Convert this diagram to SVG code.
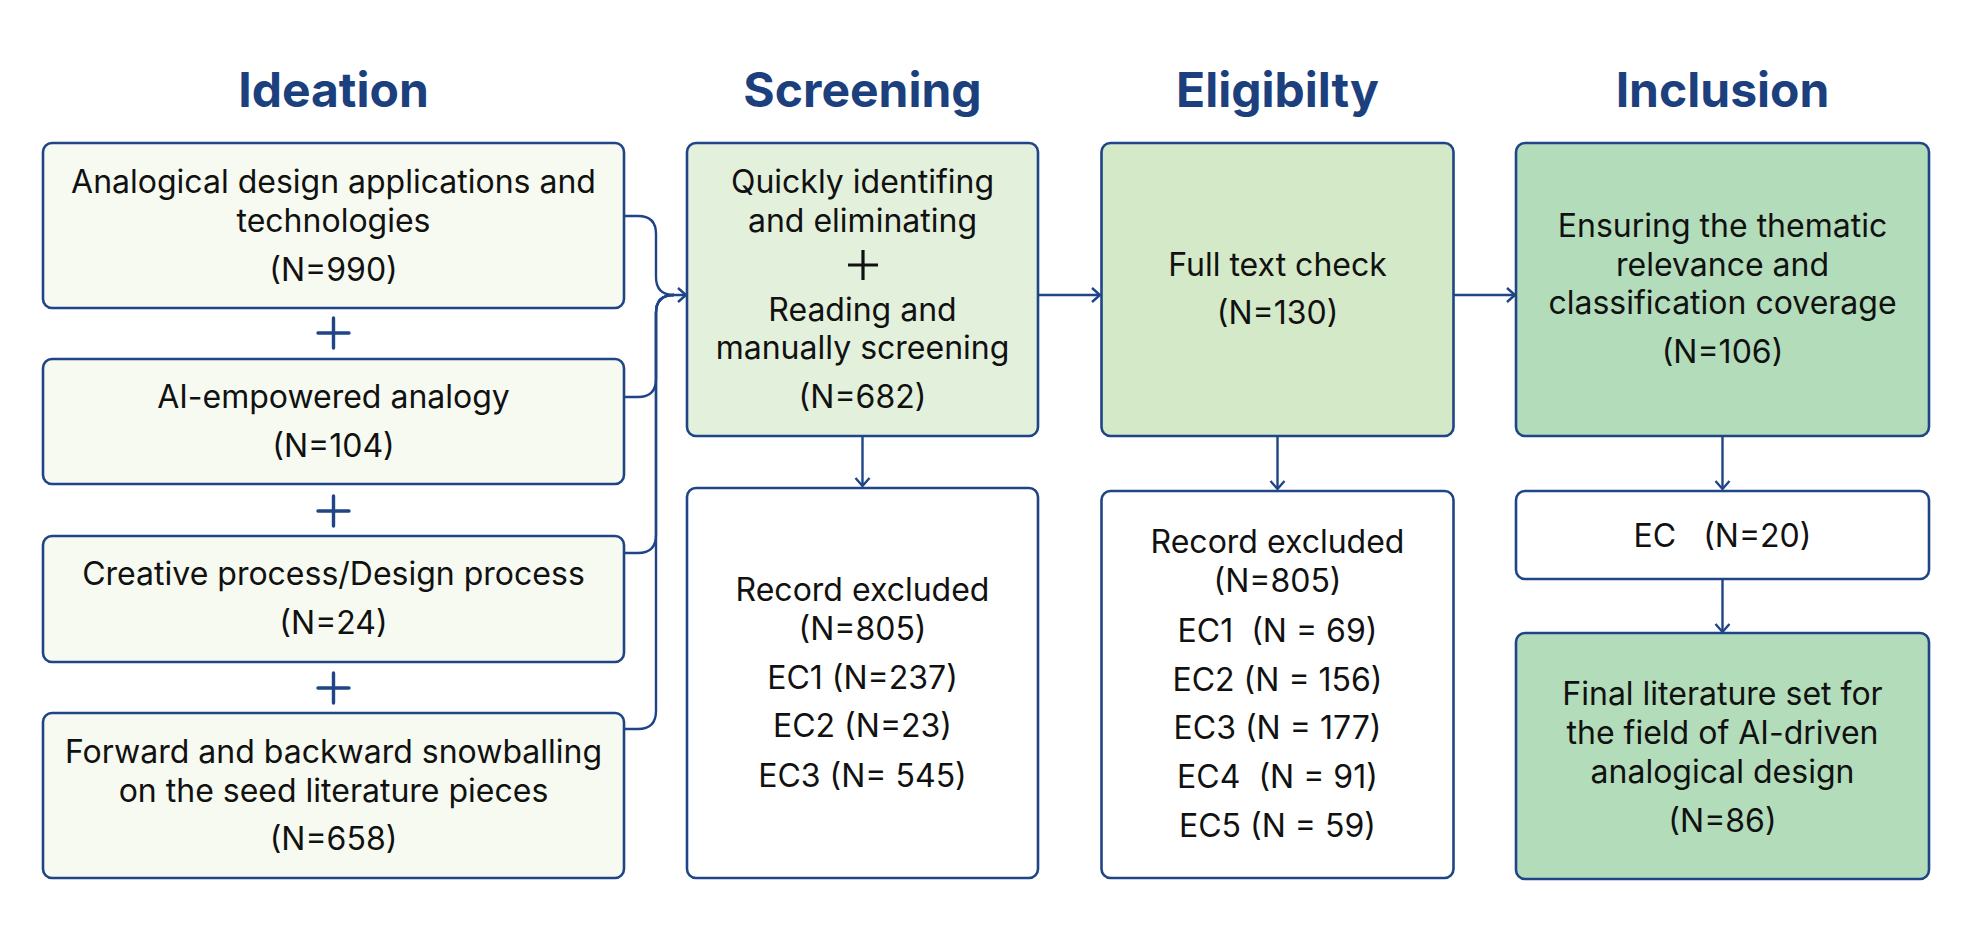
<svg xmlns="http://www.w3.org/2000/svg" width="1973" height="943" viewBox="0 0 1973 943">
<style>
.title{font-family:Inter,"Noto Sans",sans-serif;font-weight:700;font-size:48px;fill:#1c3f7d;text-anchor:middle}
.t{font-family:Inter,"Noto Sans",sans-serif;font-size:32px;fill:#111;text-anchor:middle;white-space:pre}
.box{stroke:#1f4586;stroke-width:2.6}
.ide{fill:#f7faf0}
.scr{fill:#e2f0dc}
.eli{fill:#d3e9c8}
.inc{fill:#b3dcbb}
.wht{fill:#ffffff}
.con{fill:none;stroke:#1f4586;stroke-width:2.4}
.plus{stroke:#1f4586;stroke-width:3.4;stroke-linecap:round}
</style>
<defs>
<marker id="arr" viewBox="-12 -10 16 20" markerWidth="16" markerHeight="20" refX="0" refY="0" markerUnits="userSpaceOnUse" orient="auto">
<path d="M-8,-7 L0,0 L-8,7" fill="none" stroke="#1f4586" stroke-width="2.4"/>
</marker>
</defs>
<rect width="1973" height="943" fill="#ffffff"/>
<g id="titles">
<text class="title" x="333.5" y="107">Ideation</text>
<text class="title" x="862.5" y="107">Screening</text>
<text class="title" x="1277.5" y="107">Eligibilty</text>
<text class="title" x="1722.5" y="107">Inclusion</text>
</g>
<g id="connectors">
<path class="con" d="M624,216 H638 Q656,216 656,234 V277 Q656,295 674,295 H686" marker-end="url(#arr)"/>
<path class="con" d="M624,397 H638 Q656,397 656,379 V313 Q656,295 674,295"/>
<path class="con" d="M624,553 H638 Q656,553 656,535 V313 Q656,295 674,295"/>
<path class="con" d="M624,729 H638 Q656,729 656,711 V313 Q656,295 674,295"/>
<path class="con" d="M1038,295 H1100" marker-end="url(#arr)"/>
<path class="con" d="M1453,295 H1515" marker-end="url(#arr)"/>
<path class="con" d="M862.5,436 V486" marker-end="url(#arr)"/>
<path class="con" d="M1277.5,436 V489" marker-end="url(#arr)"/>
<path class="con" d="M1722.5,436 V489" marker-end="url(#arr)"/>
<path class="con" d="M1722.5,579 V632" marker-end="url(#arr)"/>
</g>
<g id="ideation1">
<rect class="box ide" x="43" y="143" width="581" height="165" rx="9"/>
<text class="t" x="333.5" y="193">Analogical design applications and</text>
<text class="t" x="333.5" y="232">technologies</text>
<text class="t" x="333.5" y="281">(N=990)</text>
</g>
<g id="plus1"><path class="plus" d="M318,333 H349 M333.5,318 V348"/></g>
<g id="ideation2">
<rect class="box ide" x="43" y="359" width="581" height="125" rx="9"/>
<text class="t" x="333.5" y="408">AI-empowered analogy</text>
<text class="t" x="333.5" y="457">(N=104)</text>
</g>
<g id="plus2"><path class="plus" d="M318,511 H349 M333.5,496 V526"/></g>
<g id="ideation3">
<rect class="box ide" x="43" y="536" width="581" height="126" rx="9"/>
<text class="t" x="333.5" y="585">Creative process/Design process</text>
<text class="t" x="333.5" y="634">(N=24)</text>
</g>
<g id="plus3"><path class="plus" d="M318,688 H349 M333.5,673 V703"/></g>
<g id="ideation4">
<rect class="box ide" x="43" y="713" width="581" height="165" rx="9"/>
<text class="t" x="333.5" y="763">Forward and backward snowballing</text>
<text class="t" x="333.5" y="802">on the seed literature pieces</text>
<text class="t" x="333.5" y="850">(N=658)</text>
</g>
<g id="screening">
<rect class="box scr" x="687" y="143" width="351" height="293" rx="9"/>
<text class="t" x="862.5" y="193">Quickly identifing</text>
<text class="t" x="862.5" y="232">and eliminating</text>
<path d="M848,265 H878 M863,250 V280" stroke="#111" stroke-width="3.2"/>
<text class="t" x="862.5" y="321">Reading and</text>
<text class="t" x="862.5" y="359">manually screening</text>
<text class="t" x="862.5" y="408">(N=682)</text>
</g>
<g id="screening-excluded">
<rect class="box wht" x="687" y="488" width="351" height="390" rx="9"/>
<text class="t" x="862.5" y="601">Record excluded</text>
<text class="t" x="862.5" y="640">(N=805)</text>
<text class="t" x="862.5" y="689">EC1 (N=237)</text>
<text class="t" x="862.5" y="737">EC2 (N=23)</text>
<text class="t" x="862.5" y="787">EC3 (N= 545)</text>
</g>
<g id="eligibility">
<rect class="box eli" x="1101.5" y="143" width="352" height="293" rx="9"/>
<text class="t" x="1277.5" y="276">Full text check</text>
<text class="t" x="1277.5" y="324">(N=130)</text>
</g>
<g id="eligibility-excluded">
<rect class="box wht" x="1101.5" y="491" width="352" height="387" rx="9"/>
<text class="t" x="1277.5" y="553">Record excluded</text>
<text class="t" x="1277.5" y="592">(N=805)</text>
<text class="t" x="1277.5" y="642">EC1  (N = 69)</text>
<text class="t" x="1277.5" y="691">EC2 (N = 156)</text>
<text class="t" x="1277.5" y="739">EC3 (N = 177)</text>
<text class="t" x="1277.5" y="788">EC4  (N = 91)</text>
<text class="t" x="1277.5" y="837">EC5 (N = 59)</text>
</g>
<g id="inclusion">
<rect class="box inc" x="1516" y="143" width="413" height="293" rx="9"/>
<text class="t" x="1722.5" y="237">Ensuring the thematic</text>
<text class="t" x="1722.5" y="276">relevance and</text>
<text class="t" x="1722.5" y="314">classification coverage</text>
<text class="t" x="1722.5" y="363">(N=106)</text>
</g>
<g id="inclusion-ec">
<rect class="box wht" x="1516" y="491" width="413" height="88" rx="9"/>
<text class="t" x="1722.5" y="547">EC   (N=20)</text>
</g>
<g id="final-set">
<rect class="box inc" x="1516" y="633" width="413" height="246" rx="9"/>
<text class="t" x="1722.5" y="705">Final literature set for</text>
<text class="t" x="1722.5" y="744">the field of AI-driven</text>
<text class="t" x="1722.5" y="783">analogical design</text>
<text class="t" x="1722.5" y="832">(N=86)</text>
</g>
</svg>
